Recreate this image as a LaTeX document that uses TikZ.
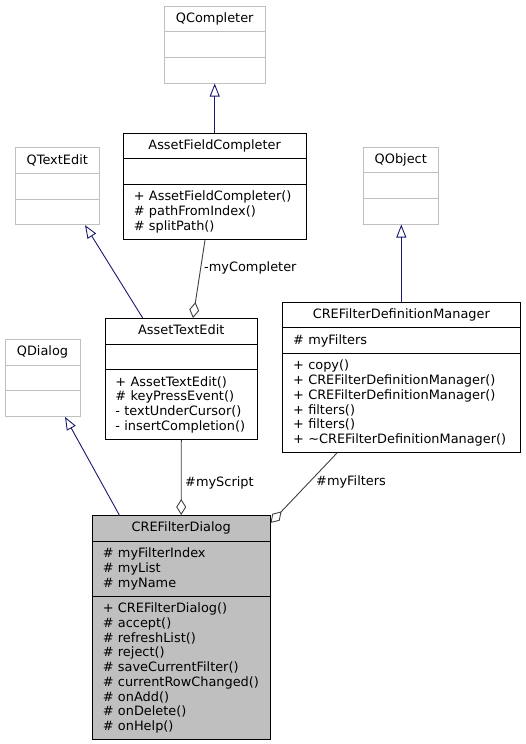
\documentclass[tikz,border=0pt]{standalone}
\usepackage{fontspec}
\setmainfont{DejaVu Sans}
\usetikzlibrary{shapes.multipart,arrows.meta}
\definecolor{edgeblue}{HTML}{191970}
\definecolor{boxgray}{HTML}{BFBFBF}
\definecolor{linkgray}{HTML}{404040}
\newcommand{\rowstrut}{\rule[-3.75pt]{0pt}{14.75pt}}
\tikzset{
  cls/.style={rectangle split, rectangle split parts=3, draw=black, line width=0.9pt,
    inner xsep=10.5pt, inner ysep=5pt, anchor=north,
    font=\fontsize{12.9}{14.75}\selectfont},
  extcls/.style={cls, draw=boxgray},
  inherit/.style={draw=edgeblue, line width=0.9pt, -{Triangle[open,length=13pt,width=10pt]}},
  member/.style={draw=linkgray, line width=0.9pt, -{Diamond[open,length=16pt,width=10pt]}},
  lbl/.style={anchor=west, inner sep=0pt, font=\fontsize{12.9}{14.75}\selectfont}
}
\begin{document}
\begin{tikzpicture}[x=1pt,y=-1pt]
\useasboundingbox (0,0) rectangle (525,744);
%\draw[help lines,step=25] (0,0) grid (525,744);
\node[extcls, text width=79.7pt] (QCompleter) at (214.7,5.7)
  {\centering\rowstrut QCompleter\par\nodepart{two}\rowstrut\nodepart{three}\rowstrut};
\node[cls, text width=161.7pt] (AssetFieldCompleter) at (214.7,132.7)
  {\centering\rowstrut AssetFieldCompleter\par\nodepart{two}\rowstrut
   \nodepart{three}\rowstrut+ AssetFieldCompleter()\\\rowstrut\# pathFromIndex()\\\rowstrut\# splitPath()};
\node[extcls, text width=63pt] (QTextEdit) at (57.3,147.3)
  {\centering\rowstrut QTextEdit\par\nodepart{two}\rowstrut\nodepart{three}\rowstrut};
\node[extcls, text width=54pt] (QObject) at (400.8,146.7)
  {\centering\rowstrut QObject\par\nodepart{two}\rowstrut\nodepart{three}\rowstrut};
\node[extcls, text width=54pt] (QDialog) at (42.5,339)
  {\centering\rowstrut QDialog\par\nodepart{two}\rowstrut\nodepart{three}\rowstrut};
\node[cls, text width=131.7pt] (AssetTextEdit) at (181.3,318)
  {\centering\rowstrut AssetTextEdit\par\nodepart{two}\rowstrut
   \nodepart{three}\rowstrut+ AssetTextEdit()\\\rowstrut\# keyPressEvent()\\\rowstrut- textUnderCursor()\\\rowstrut- insertCompletion()};
\node[cls, text width=216.3pt] (CREFilterDefinitionManager) at (401.3,301.7)
  {\centering\rowstrut CREFilterDefinitionManager\par\nodepart{two}\rowstrut\# myFilters
   \nodepart{three}\rowstrut+ copy()\\\rowstrut+ CREFilterDefinitionManager()\\\rowstrut+ CREFilterDefinitionManager()\\
   \rowstrut+ filters()\\\rowstrut+ filters()\\\rowstrut+ \textasciitilde CREFilterDefinitionManager()};
\node[cls, fill=boxgray, text width=156.7pt] (CREFilterDialog) at (181.2,515)
  {\centering\rowstrut CREFilterDialog\par\nodepart{two}\rowstrut\# myFilterIndex\\\rowstrut\# myList\\\rowstrut\# myName
   \nodepart{three}\rowstrut+ CREFilterDialog()\\\rowstrut\# accept()\\\rowstrut\# refreshList()\\\rowstrut\# reject()\\
   \rowstrut\# saveCurrentFilter()\\\rowstrut\# currentRowChanged()\\\rowstrut\# onAdd()\\\rowstrut\# onDelete()\\\rowstrut\# onHelp()};
\draw[inherit] (AssetFieldCompleter.north) -- (QCompleter.south);
\draw[inherit] ([xshift=-38.6pt]AssetTextEdit.north) -- ([xshift=27.7pt]QTextEdit.south);
\draw[inherit] (CREFilterDefinitionManager.north) -- (CREFilterDefinitionManager.north |- QObject.south);
\draw[inherit] ([xshift=-61.9pt]CREFilterDialog.north) -- ([xshift=22.5pt]QDialog.south);
\draw[member] ([xshift=-9.7pt]AssetFieldCompleter.south) -- ([xshift=11.7pt]AssetTextEdit.north);
\draw[member] (AssetTextEdit.south) -- (CREFilterDialog.north);
\draw[member] ([xshift=-64.6pt]CREFilterDefinitionManager.south) -- ([yshift=-8pt]CREFilterDialog.north east);
\node[lbl] (lblCompleter) at (204,268) {-myCompleter};
\node[lbl] (lblScript) at (185,483.3) {\#myScript};
\node[lbl] (lblFilters) at (316,481.7) {\#myFilters};
\end{tikzpicture}
\end{document}
